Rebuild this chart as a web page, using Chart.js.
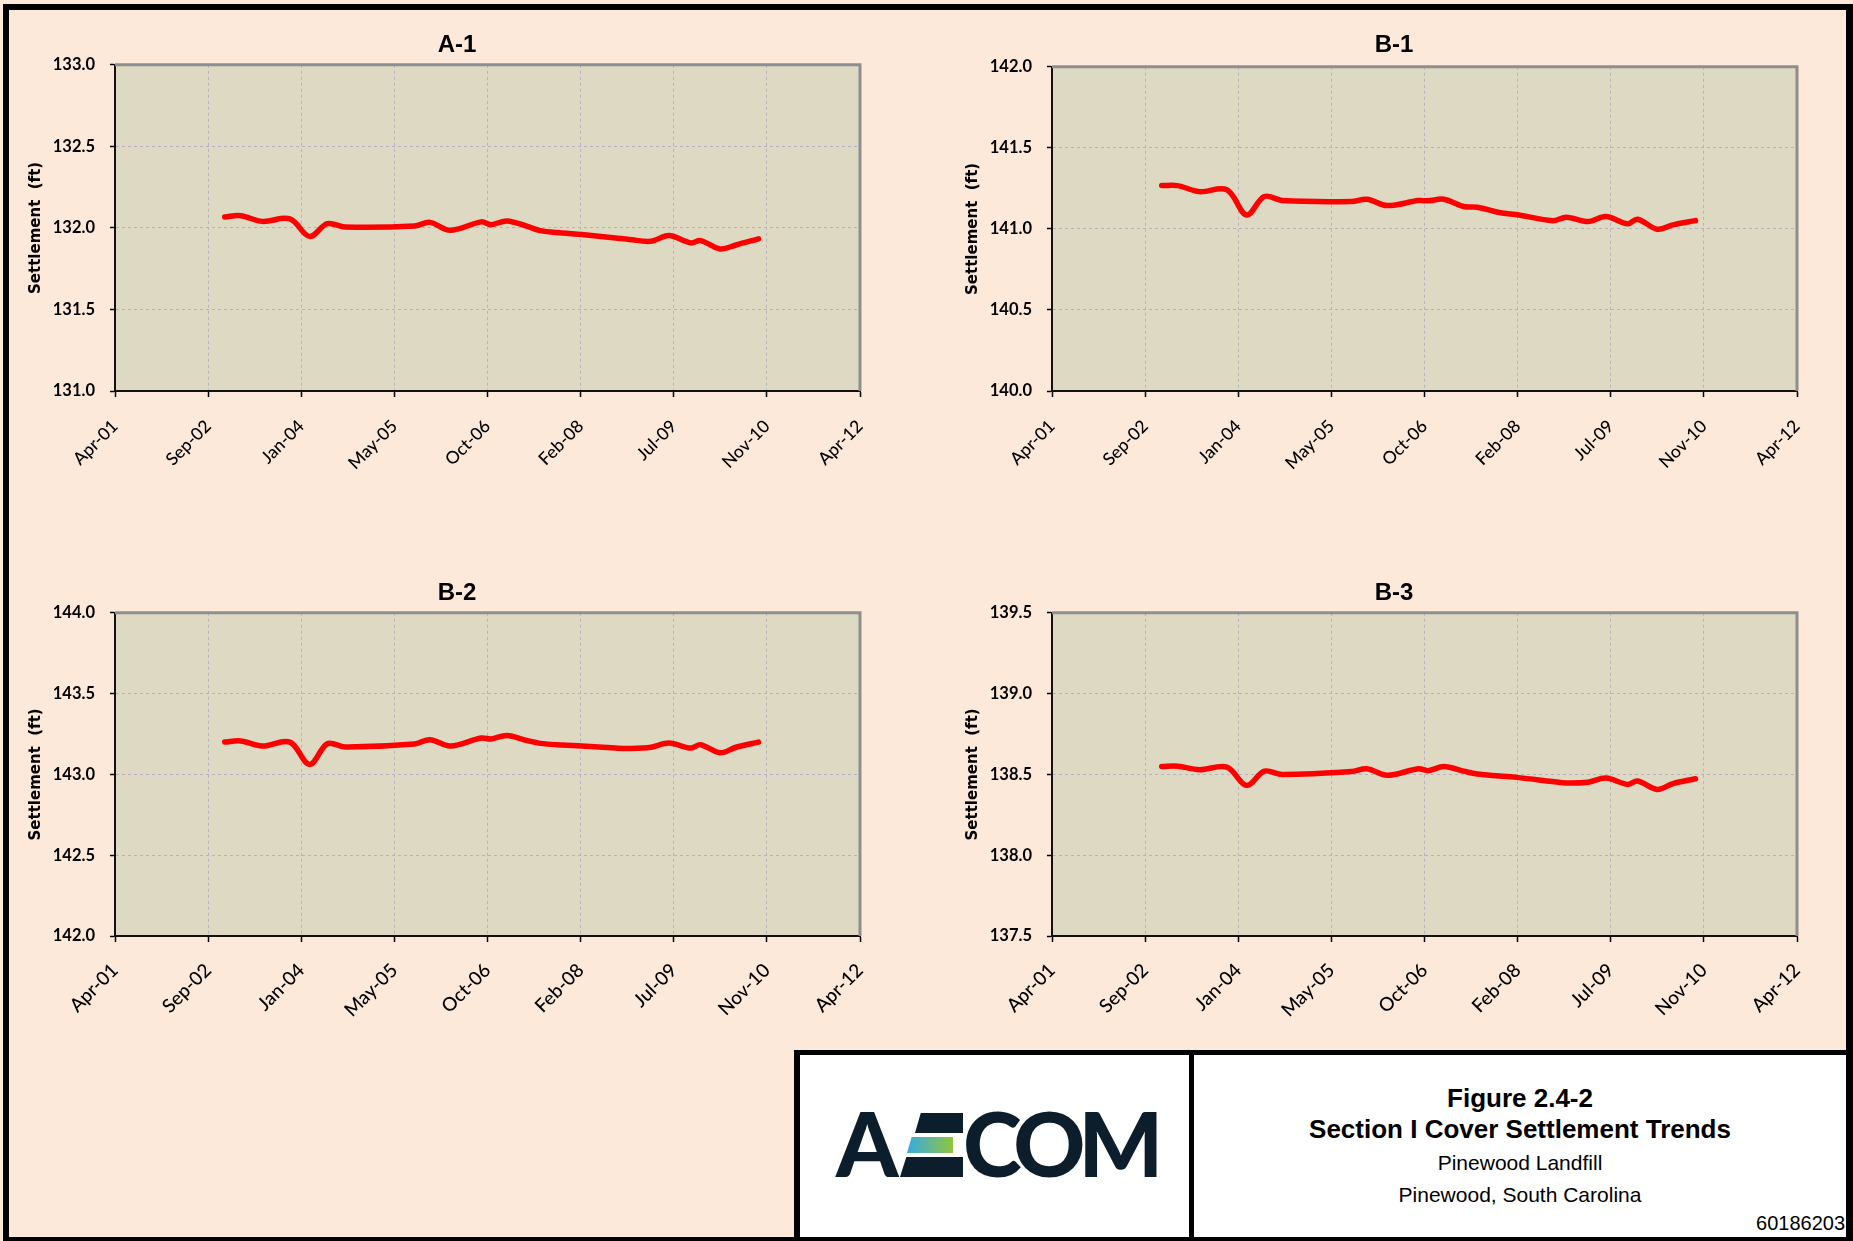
<!DOCTYPE html>
<html>
<head>
<meta charset="utf-8">
<script src="https://cdn.jsdelivr.net/npm/chart.js"></script>
<style>
html,body{margin:0;padding:0;background:#fff;}
#page{position:relative;width:1853px;height:1241px;background:#FDE9D9;overflow:hidden;}
#page canvas{position:absolute;}
#frame{position:absolute;left:3px;top:4px;width:1850px;height:1237px;box-sizing:border-box;border:6px solid #000;border-right-width:7px;border-bottom-width:4px;pointer-events:none;z-index:5;}
#logoBox{position:absolute;left:794px;top:1050px;width:400px;height:191px;box-sizing:border-box;background:#fff;border:solid #000;border-width:5px 5px 0 6px;z-index:3;}
#titleBox{position:absolute;left:1194px;top:1050px;width:659px;height:191px;box-sizing:border-box;background:#fff;border-top:5px solid #000;z-index:3;}
.t{position:absolute;left:1194px;width:652px;text-align:center;font-family:'Liberation Sans',Arial,sans-serif;color:#000;white-space:nowrap;z-index:4;}
.lg{position:absolute;top:1098px;font-family:'Lato',sans-serif;font-weight:900;font-size:89px;line-height:89px;color:#0c1e2c;z-index:4;white-space:nowrap;}
.bar{position:absolute;z-index:4;}
</style>
</head>
<body>
<div id="page">
  <canvas id="cA1" width="886" height="480" style="left:14px;top:12px;width:886px;height:480px"></canvas>
  <canvas id="cB1" width="886" height="480" style="left:951px;top:12px;width:886px;height:480px"></canvas>
  <canvas id="cB2" width="886" height="500" style="left:14px;top:560px;width:886px;height:500px"></canvas>
  <canvas id="cB3" width="886" height="500" style="left:951px;top:560px;width:886px;height:500px"></canvas>

  <div id="logoBox"></div>
  <div id="titleBox"></div>
  <span class="lg" style="left:836px">A</span>
  <span class="lg" style="left:905px;color:transparent">E</span>
  <div class="bar" style="left:915px;top:1113px;width:48px;height:20px;background:#0c1e2c;clip-path:polygon(12% 0,100% 0,100% 100%,0 100%)"></div>
  <div class="bar" style="left:907px;top:1137px;width:46px;height:16px;background:linear-gradient(90deg,#39a9e6,#8fc63c);clip-path:polygon(10% 0,100% 0,100% 100%,0 100%)"></div>
  <div class="bar" style="left:900px;top:1157px;width:63px;height:20px;background:#0c1e2c;clip-path:polygon(10% 0,100% 0,100% 100%,0 100%)"></div>
  <span class="lg" style="left:963px;letter-spacing:-7px">COM</span>

  <div class="t" style="top:1083px;font-size:26px;line-height:30px;font-weight:bold">Figure 2.4-2</div>
  <div class="t" style="top:1114px;font-size:26px;line-height:30px;font-weight:bold">Section I Cover Settlement Trends</div>
  <div class="t" style="top:1151px;font-size:21px;line-height:24px">Pinewood Landfill</div>
  <div class="t" style="top:1183px;font-size:21px;line-height:24px">Pinewood, South Carolina</div>
  <div class="t" style="top:1211px;font-size:20px;line-height:24px;text-align:right;width:651px">60186203</div>
  <div id="frame"></div>
</div>
<script>
// ---- data ----
const surveyDates = ['2002-11-29','2003-02-22','2003-06-19','2003-11-14','2004-02-28','2004-06-02','2004-09-06',
  '2005-09-12','2005-12-05','2006-03-24','2006-09-07','2006-10-29','2007-01-22','2007-05-08','2007-07-21',
  '2007-11-15','2008-02-29','2008-08-27','2008-11-10','2009-03-06','2009-06-10','2009-10-05','2009-11-27',
  '2010-03-12','2010-06-05','2010-10-04'];

const a1Values = [132.067,132.075,132.040,132.055,131.948,132.026,132.006,132.012,132.034,131.985,132.037,132.020,132.043,
  132.011,131.983,131.969,131.959,131.938,131.929,131.918,131.953,131.908,131.922,131.871,131.895,131.933];
const b1Values = [141.267,141.267,141.230,141.241,141.086,141.200,141.175,141.169,141.183,141.144,141.175,141.173,141.183,
  141.138,141.134,141.101,141.086,141.051,141.072,141.045,141.076,141.031,141.060,140.998,141.025,141.051];
const b2Values = [143.200,143.207,143.176,143.200,143.062,143.190,143.170,143.188,143.215,143.176,143.225,143.219,143.241,
  143.210,143.192,143.182,143.176,143.163,143.160,143.168,143.194,143.163,143.184,143.134,143.168,143.200];
const b3Values = [138.549,138.551,138.529,138.545,138.432,138.520,138.500,138.518,138.535,138.494,138.535,138.523,138.549,
  138.520,138.502,138.490,138.480,138.456,138.447,138.452,138.477,138.438,138.459,138.407,138.443,138.473];

const xTickLabels = ['Apr-01','Sep-02','Jan-04','May-05','Oct-06','Feb-08','Jul-09','Nov-10','Apr-12'];
const xAxisStart = 37000;   // Excel serial of first tick (Apr-01)
const xAxisStep = 500;      // days between ticks
const yTitle = 'Settlement  (ft)';

function excelSerial(iso){
  const p = iso.split('-').map(Number);
  return Math.round((Date.UTC(p[0],p[1]-1,p[2]) - Date.UTC(1899,11,30)) / 864e5);
}
const xValues = surveyDates.map(excelSerial);

const plotFrame = {
  id:'plotFrame',
  beforeDraw(chart){
    const {ctx, chartArea:a} = chart;
    ctx.save(); ctx.fillStyle = '#DDD9C3';
    ctx.fillRect(a.left, a.top, a.right - a.left, a.bottom - a.top);
    ctx.restore();
  },
  beforeDatasetsDraw(chart){
    const {ctx, chartArea:a} = chart;
    ctx.save(); ctx.strokeStyle = '#8e8e8e'; ctx.lineWidth = 3;
    ctx.beginPath(); ctx.moveTo(a.left, a.top); ctx.lineTo(a.right, a.top); ctx.lineTo(a.right, a.bottom); ctx.stroke();
    ctx.restore();
  }
};

function makeChart(id, title, values, yMin, yMax, o){
  return new Chart(document.getElementById(id), {
    type:'line',
    data:{datasets:[{
      data: xValues.map((x,i)=>({x:x, y:values[i]})),
      borderColor:'#ff0000', borderWidth:5.5, pointRadius:0, pointHoverRadius:0,
      tension:0.35, borderCapStyle:'round', borderJoinStyle:'round', fill:false
    }]},
    options:{
      responsive:false, animation:false, devicePixelRatio:1,
      layout:{padding:{top:o.padTop,left:0,right:0,bottom:0}},
      plugins:{
        legend:{display:false}, tooltip:{enabled:false},
        title:{display:true, text:title, color:'#000',
          font:{family:"'Liberation Sans', Arial, sans-serif", size:24, weight:'bold', lineHeight:1.2},
          padding:{top:0,bottom:o.titleGap}}
      },
      scales:{
        x:{type:'linear', min:xAxisStart, max:xAxisStart + xAxisStep*(xTickLabels.length-1),
          ticks:{stepSize:xAxisStep, autoSkip:false, maxRotation:45, minRotation:45, padding:o.xPad, color:'#000',
            font:{family:'Lato', size:o.xFont, weight:500}, callback:(v,i)=>xTickLabels[i]},
          grid:{color:'#b7b1c5', lineWidth:1, tickLength:6, tickColor:'#000', tickWidth:1.5},
          border:{display:true, color:'#111', width:2, dash:[3,3]},
          afterFit:s=>{s.height = o.xH;}
        },
        y:{type:'linear', min:yMin, max:yMax,
          ticks:{stepSize:0.5, padding:15, color:'#000', font:{family:'Lato', size:16.5, weight:'bold'},
            callback:v=>Number(v).toFixed(1)},
          grid:{color:'#b7b1c5', lineWidth:1, tickLength:5, tickColor:'#000', tickWidth:1.5},
          border:{display:true, color:'#111', width:2, dash:[3,3]},
          title:{display:true, text:yTitle, color:'#000',
            font:{family:"'DejaVu Sans', sans-serif", size:15, weight:'bold', lineHeight:1.2},
            padding:{top:13,bottom:0}},
          afterFit:s=>{s.width = 101;}
        },
        pad:{type:'linear', position:'right', display:true, grid:{display:false}, ticks:{display:false},
          border:{display:false}, afterFit:s=>{s.width = 40;}}
      }
    },
    plugins:[plotFrame]
  });
}

function build(){
  Chart.defaults.font.family = 'Lato';
  makeChart('cA1','A-1',a1Values,131,133,{padTop:19,titleGap:5,xH:101,xPad:19,xFont:17.5});
  makeChart('cB1','B-1',b1Values,140,142,{padTop:19,titleGap:7,xH:101,xPad:19,xFont:17.5});
  makeChart('cB2','B-2',b2Values,142,144,{padTop:19,titleGap:5,xH:124,xPad:17,xFont:19});
  makeChart('cB3','B-3',b3Values,137.5,139.5,{padTop:19,titleGap:5,xH:124,xPad:17,xFont:19});
}
if (document.fonts && document.fonts.ready) { document.fonts.ready.then(build); } else { build(); }
</script>
</body>
</html>
